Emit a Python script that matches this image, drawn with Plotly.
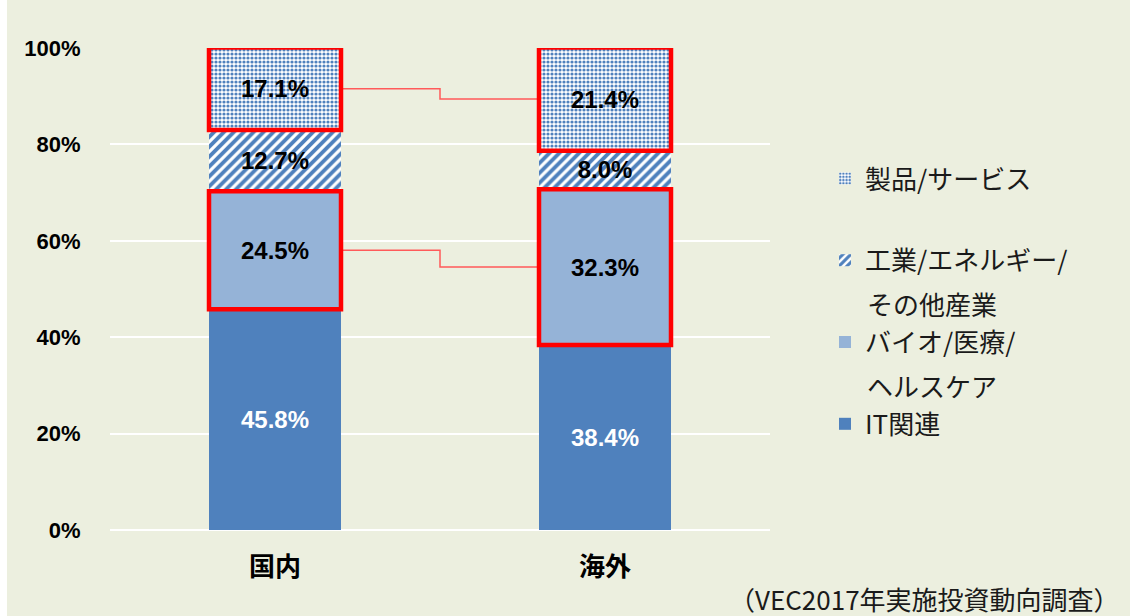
import plotly.graph_objects as go

categories = ["国内", "海外"]
series_names = ["IT関連", "バイオ/医療/", "工業/エネルギー/", "製品/サービス"]
it_vals = [45.8, 38.4]
bio_vals = [24.5, 32.3]
ind_vals = [12.7, 8.0]
prod_vals = [17.1, 21.4]
second_lines = {"バイオ/医療/": "ヘルスケア", "工業/エネルギー/": "その他産業"}
yticks = [0, 20, 40, 60, 80, 100]
ytick_labels = ["0%", "20%", "40%", "60%", "80%", "100%"]
source_text = "（VEC2017年実施投資動向調査）"

BG = "#ECEFDF"
BLUE = "#4F81BD"
LIGHT = "#95B3D7"
xs = list(range(len(categories)))
BW = 0.4

fig = go.Figure()
LBL = dict(family="Liberation Sans, Arial, sans-serif", size=24, color="black")

def add_bar(vals, name, color, rank, pattern=None, txtcolor="black", group="g"):
    marker = dict(color=color, line=dict(width=0))
    if pattern:
        marker["pattern"] = pattern
    fig.add_trace(go.Bar(
        x=xs, y=vals, name=name, width=BW, marker=marker,
        text=[f"{v:.1f}%" for v in vals], textposition="inside",
        insidetextanchor="middle", textangle=0,
        textfont=dict(LBL, color=txtcolor),
        texttemplate="<b>%{text}</b>",
        legendgroup=group, legendrank=rank, hoverinfo="skip",
    ))

add_bar(it_vals, series_names[0], BLUE, 4, txtcolor="white", group="a")
add_bar(bio_vals, series_names[1], LIGHT, 3, group="b")
add_bar(ind_vals, series_names[2], "white", 2,
        pattern=dict(shape="/", fgcolor=BLUE, bgcolor="white", size=7, solidity=0.55,
                     fgopacity=1, fillmode="overlay"),
        group="c")
add_bar(prod_vals, series_names[3], "white", 1,
        pattern=dict(shape=".", fgcolor=BLUE, bgcolor="white", size=4, solidity=0.5,
                     fgopacity=1, fillmode="overlay"),
        group="d")

# cumulative positions
bio_lo = [a for a in it_vals]
bio_hi = [a + b for a, b in zip(it_vals, bio_vals)]
prod_lo = [a + b + c for a, b, c in zip(it_vals, bio_vals, ind_vals)]
prod_hi = [p + q for p, q in zip(prod_lo, prod_vals)]

shapes = []
for i in xs:
    for lo, hi in ((bio_lo[i], bio_hi[i]), (prod_lo[i], prod_hi[i])):
        shapes.append(dict(type="rect", xref="x", yref="y", x0=i - BW / 2, x1=i + BW / 2,
                           y0=lo, y1=hi, line=dict(color="#FF0000", width=4.5),
                           fillcolor="rgba(0,0,0,0)", layer="above"))

# connector lines (step between segment midpoints)
for lo, hi in ((bio_lo, bio_hi), (prod_lo, prod_hi)):
    mids = [(l + h) / 2 for l, h in zip(lo, hi)]
    fig.add_trace(go.Scatter(
        x=[xs[0] + BW / 2, xs[1] - BW / 2], y=mids, mode="lines",
        line=dict(color="#FF5A5A", width=1.5, shape="hvh"),
        showlegend=False, hoverinfo="skip", cliponaxis=False,
    ))

# white strip at left edge
shapes.append(dict(type="rect", xref="paper", yref="paper", x0=-0.1667, x1=-0.1561,
                   y0=-0.2, y1=1.2, fillcolor="white", line=dict(width=0), layer="below"))

annotations = []
LEG_FONT = dict(family="Noto Sans CJK JP, sans-serif", size=26, color="#1a1a1a")
annotations.append(dict(text=second_lines["工業/エネルギー/"], xref="paper", yref="paper",
                        x=(865 - 110) / 660, y=(530 - 303) / 482, xanchor="left", yanchor="middle",
                        showarrow=False, font=LEG_FONT))
annotations.append(dict(text=second_lines["バイオ/医療/"], xref="paper", yref="paper",
                        x=(865 - 110) / 660, y=(530 - 385) / 482, xanchor="left", yanchor="middle",
                        showarrow=False, font=LEG_FONT))
annotations.append(dict(text=source_text, xref="paper", yref="paper",
                        x=(1122 - 110) / 660, y=(530 - 598) / 482, xanchor="right", yanchor="middle",
                        showarrow=False, font=dict(LEG_FONT, size=26)))

fig.update_layout(
    width=1130, height=616,
    margin=dict(l=110, r=360, t=48, b=86),
    paper_bgcolor=BG, plot_bgcolor=BG,
    barmode="stack", bargap=0.6,
    shapes=shapes, annotations=annotations,
    legend=dict(x=(825 - 110) / 660, y=(530 - 155) / 482, xanchor="left", yanchor="top",
                traceorder="grouped", tracegroupgap=45, font=LEG_FONT,
                bgcolor="rgba(0,0,0,0)"),
    xaxis=dict(range=[-0.5, 1.5], tickvals=xs, ticktext=categories, showgrid=False,
               zeroline=False, showline=False, ticks="outside", ticklen=14, tickcolor=BG,
               tickfont=dict(family="Noto Sans CJK JP, sans-serif", size=26, color="black", weight="bold")),
    yaxis=dict(range=[0, 100], tickvals=yticks, ticktext=ytick_labels, showgrid=True,
               gridcolor="white", gridwidth=1.5, zeroline=True, zerolinecolor="white", zerolinewidth=1.5,
               showline=False, ticks="outside", ticklen=24, tickcolor=BG,
               tickfont=dict(family="Liberation Sans, Arial, sans-serif", size=22, color="black", weight="bold")),
)

fig.write_html("out.html", config={"displayModeBar": False},
               post_script="document.body.style.margin='0';document.body.style.padding='0';")
